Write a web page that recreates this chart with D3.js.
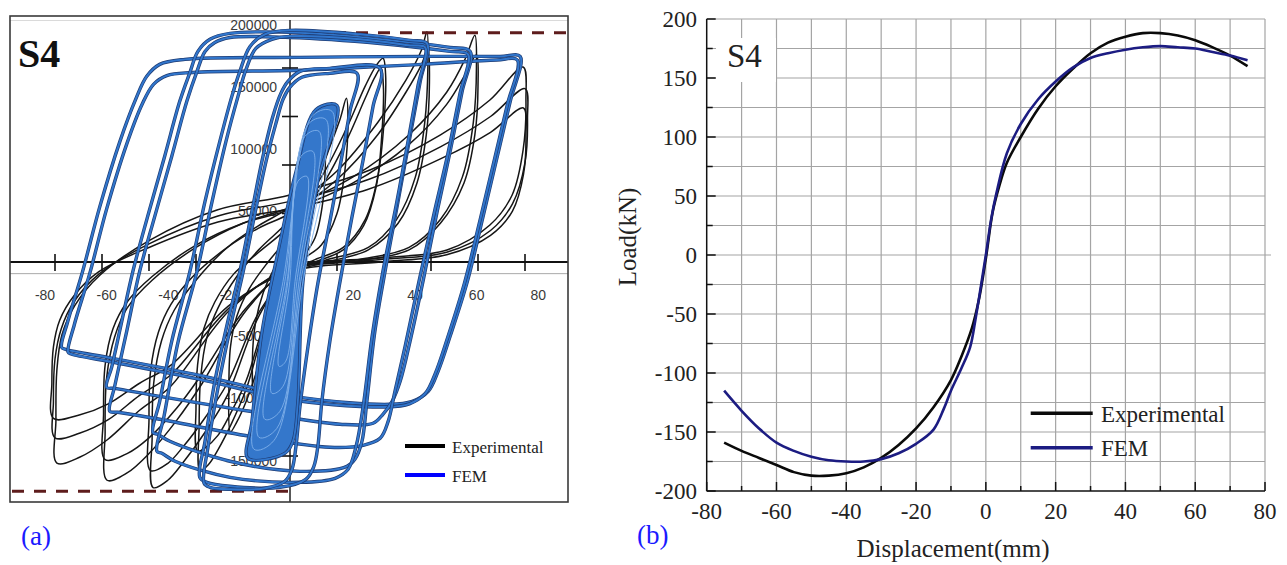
<!DOCTYPE html>
<html><head><meta charset="utf-8">
<script src="https://cdn.jsdelivr.net/npm/d3@7"></script>
<style>body{margin:0;background:#fff}svg{display:block}</style>
</head><body>
<svg id="chart" width="1287" height="565"></svg>
<script>
// ================= data =================
const specimen = "S4";

// (a) experimental hysteresis cycles: [displacement mm, load kN]
const expCycle75a = [[-74.4,-165.8],[-74.7,-130.3],[-74.4,-89.1],[-72.8,-60.2],[-68.6,-35.5],[-60.6,-10.7],[-44.7,18.1],[-23.3,42.9],[0,55.3],[25.5,75.9],[47.9,104.7],[63.8,133.6],[74.4,160.8],[75.3,133.6],[74.4,92.4],[70.9,55.3],[63.8,30.5],[50.1,9.9],[28.7,3.3],[0,-4.9],[-19.2,-39.6],[-38.3,-103.1],[-47.9,-122.1],[-58.4,-146.8],[-67.0,-160.8]];
const expCycle75b = [[-75,-145],[-75.5,-115],[-75,-80],[-73,-55],[-69,-33],[-61,-10],[-45,15],[-23,38],[0,50],[25,68],[48,95],[64,120],[75,143],[75.8,118],[75,82],[71,48],[64,26],[50,8],[29,2],[0,-6],[-19,-37],[-38,-93],[-48,-110],[-58,-130],[-67,-141]];
const expCycle75c = [[-75.5,-129],[-76,-100],[-75.5,-70],[-73.5,-48],[-69,-28],[-61,-8],[-45,12],[-23,33],[0,44],[25,60],[48,85],[64,107],[74.5,127],[75.3,104],[74.5,72],[71,42],[64,22],[50,6],[29,0],[0,-8],[-19,-35],[-38,-85],[-48,-100],[-58,-117],[-67,-126]];
const expCycle60a = [[-58.4,-180],[-59,-140],[-58.5,-95],[-56,-62],[-52,-38],[-44,-15],[-30,12],[-15,32],[0,45],[20,70],[38,105],[50,140],[56,168],[59,187],[59.5,160],[58.5,115],[55,70],[48,35],[38,12],[22,2],[0,-6],[-14,-40],[-28,-100],[-36,-130],[-45,-158],[-52,-174]];
const expCycle60b = [[-59,-163],[-59.5,-125],[-59,-85],[-56.5,-55],[-52,-33],[-44,-12],[-30,14],[-15,32],[0,43],[20,65],[38,97],[50,130],[56,155],[59.5,171],[60,145],[59,105],[55.5,65],[48,32],[38,10],[22,1],[0,-7],[-14,-38],[-28,-92],[-36,-120],[-45,-145],[-52,-158]];
const expCycle45a = [[-43.7,-186],[-44,-145],[-43.5,-100],[-41,-65],[-37,-40],[-30,-15],[-20,12],[-10,30],[0,45],[15,75],[28,115],[37,150],[42,175],[43.7,190],[44,160],[43,115],[40,70],[34,35],[25,12],[12,2],[0,-8],[-10,-45],[-20,-110],[-27,-140],[-34,-165],[-39,-180]];
const expCycle45b = [[-44.5,-172],[-45,-130],[-44.5,-90],[-42,-58],[-38,-35],[-31,-12],[-20,12],[-10,28],[0,40],[15,68],[28,105],[37,140],[42,163],[44,176],[44.5,148],[43.5,105],[40.5,65],[34.5,32],[25,10],[12,0],[0,-10],[-10,-42],[-20,-100],[-27,-128],[-34,-152],[-39,-166]];
const expCycle30a = [[-28.7,-172],[-29,-135],[-28.5,-95],[-26.5,-62],[-23,-38],[-17,-12],[-10,10],[0,35],[10,70],[18,110],[24,145],[27.5,162],[29.7,168],[30.5,155],[30,115],[28,70],[24,35],[17,12],[8,2],[0,-8],[-7,-45],[-14,-105],[-19,-135],[-23,-155],[-26,-167]];
const expCycle30b = [[-29.5,-156],[-30,-120],[-29.5,-85],[-27.5,-55],[-24,-33],[-18,-10],[-10,8],[0,30],[10,62],[18,100],[24,135],[27,152],[29,160],[29.8,145],[29.3,105],[27.5,62],[23.5,30],[17,10],[8,0],[0,-9],[-7,-42],[-14,-98],[-19,-125],[-23,-143],[-27,-153]];
const expCycle20 = [[-19,-140],[-19.5,-105],[-19,-70],[-17,-45],[-13,-22],[-7,0],[0,22],[7,55],[12,90],[16,118],[18,135],[18.5,115],[17.5,75],[15,40],[10,14],[4,2],[0,-8],[-5,-40],[-10,-85],[-14,-115],[-17,-132]];
const expCycle12 = [[-11.5,-110],[-12,-80],[-11,-50],[-8.5,-25],[-5,-5],[0,15],[5,45],[8.5,75],[11,105],[11.3,85],[10.5,50],[8,20],[4,4],[0,-8],[-4,-35],[-7,-65],[-10,-95]];
const expCycle6 = [[-6,-70],[-6.3,-48],[-5.5,-25],[-3,-8],[0,8],[3,30],[5,50],[6,65],[6.2,48],[5.5,25],[3.5,8],[0,-6],[-2.5,-25],[-4.5,-48]];
const expCycles = [expCycle75a, expCycle75b, expCycle75c, expCycle60a, expCycle60b, expCycle45a, expCycle45b,
                   expCycle30a, expCycle30b, expCycle20, expCycle12, expCycle6];

// (a) FEM hysteresis cycles: [displacement mm, load kN]
const femCycle75a = [[74.1,174.4],[70.9,138.3],[66.7,94.1],[62.1,46.0],[57.0,-6.2],[51.4,-50.3],[47.5,-78.4],[44.3,-94.5],[39.1,-102.5],[31.9,-104.9],[2.7,-99.3],[-29.8,-81.6],[-58.0,-68.0],[-73.3,-60.8],[-74.6,-59.2],[-72.6,-38.3],[-67.8,1.8],[-62.2,54.0],[-55.7,106.2],[-50.6,139.9],[-47.0,158.4],[-42.8,168.0],[-34.6,172.0],[2.7,173.6],[41.7,174.4],[67.6,174.4]];
const femCycle75b = [[73.2,171.5],[70.0,136],[65.8,92],[61.2,44],[56.0,-8],[50.5,-52],[46.6,-80],[43.4,-96],[38.2,-104.5],[31.0,-107],[2.0,-102],[-30.5,-84.5],[-57.0,-71.5],[-71.5,-64.5],[-72.5,-63],[-70.5,-41],[-65.5,0],[-60,52],[-53.5,104],[-48.5,136],[-44.8,152],[-40.5,159],[-32,161.5],[5,163.5],[42,168],[66.5,171.5]];
const femCycle60a = [[57.9,178.4],[55.3,146.3],[51.4,98.1],[47.2,50.0],[42.6,-6.2],[38.4,-54.3],[35.2,-86.4],[32.6,-102.5],[29.6,-112.9],[26.4,-120.1],[15.7,-120.9],[-13.5,-110.5],[-42.8,-98.5],[-57.4,-92.1],[-60.0,-91.3],[-58.3,-74.4],[-55.1,-38.3],[-51.5,1.8],[-46.7,46.0],[-41.2,94.1],[-36.3,138.3],[-33.1,160.8],[-30.4,178.4],[-26.5,188.1],[-20.0,192.9],[-0.6,193.7],[28.7,188.1],[51.4,181.6]];
const femCycle60b = [[57.2,176.0],[54.6,144.6],[50.7,96.5],[46.2,48.4],[41.3,-6.2],[36.8,-58.4],[33.5,-94.5],[31.3,-118.6],[28.7,-132.2],[23.2,-137.8],[12.4,-139.4],[-13.5,-130.6],[-42.8,-116.9],[-56.4,-111.3],[-59.0,-110.5],[-57.4,-90.4],[-53.5,-46.3],[-49.3,1.8],[-44.4,46.0],[-38.9,94.1],[-34.0,138.3],[-30.7,162.4],[-28.1,178.4],[-24.9,185.6],[-20.0,189.6],[-0.6,189.6],[28.7,184.8],[51.4,178.4]];
const femCycle45a = [[43.9,184.8],[41.7,154.3],[38.4,110.2],[34.5,58.0],[30.6,5.9],[27.0,-46.3],[24.4,-102.5],[22.8,-134.6],[20.5,-149.1],[17.9,-154.7],[2.7,-158.7],[-20.0,-150.6],[-39.5,-134.6],[-43.4,-129.0],[-45.0,-127.4],[-42.8,-102.5],[-38.9,-54.3],[-33.0,1.8],[-28.1,58.0],[-23.3,106.2],[-19.4,142.3],[-16.8,162.4],[-13.5,182.4],[-8.7,192.1],[-0.6,195.3],[22.2,192.1],[38.4,187.3]];
const femCycle45b = [[43.3,181.6],[41.0,151.1],[37.8,106.9],[33.9,54.8],[29.6,1.8],[26.1,-50.3],[23.2,-106.5],[20.9,-138.6],[18.3,-157.1],[14.1,-164.3],[2.7,-167.5],[-20.0,-163.5],[-37.8,-150.6],[-42.1,-144.2],[-43.7,-142.6],[-41.4,-114.5],[-36.8,-54.3],[-30.7,1.8],[-25.8,58.0],[-21.3,106.2],[-17.4,142.3],[-14.8,163.9],[-11.6,180.8],[-6.4,188.1],[-0.6,190.5],[22.2,188.1],[38.4,183.2]];
const femCycle30a = [[28.7,164.8],[26.4,134.3],[23.1,90.2],[19.6,46.0],[15.7,-6.2],[12.4,-54.3],[9.8,-102.5],[8.5,-138.6],[7.2,-154.7],[4.6,-165.1],[-3.8,-171.5],[-20.0,-170.7],[-27.5,-167.5],[-29.8,-163.5],[-28.1,-134.6],[-24.9,-86.4],[-20.7,-38.3],[-16.8,1.8],[-12.9,50.0],[-9.3,94.1],[-6.1,126.2],[-3.5,144.7],[-1.2,154.3],[2.7,162.4],[12.4,164.8]];
const femCycle30b = [[21.2,160.8],[18.9,130.3],[15.7,86.1],[12.4,41.9],[8.5,-7.8],[5.3,-58.4],[2.7,-106.5],[1.4,-138.6],[0.1,-157.1],[-2.2,-166.7],[-8.7,-172.3],[-20.0,-173.1],[-26.5,-171.5],[-28.4,-168.3],[-27.1,-138.6],[-23.8,-90.4],[-19.6,-39.9],[-15.7,1.8],[-11.9,48.4],[-8.3,90.2],[-5.1,120.6],[-2.8,139.9],[-0.6,149.5],[3.3,157.6],[12.4,160.8]];
const femCycles = [femCycle75a, femCycle75b, femCycle60a, femCycle60b, femCycle45a, femCycle45b,
                   femCycle30a, femCycle30b];
// small FEM cycles packed around the origin; the outermost one bounds the dense band
const femCycle15 = [[14.7,135.1],[8.5,74.1],[3.7,-6.2],[2.0,-102.5],[0.4,-134.6],[-2.2,-144.2],[-14.2,-148.2],[-12.9,-118.5],[-9.6,-46.3],[-4.4,17.9],[1.4,82.1],[7.9,131.8]];
const femCycle13 = [[13.1,130.3],[3.7,-6.2],[-5.7,-133.8],[-12.2,-141.0],[-2.8,-6.2],[6.9,127.0]];
const femCycle11 = [[11.1,123.8],[3.0,-6.2],[-4.8,-124.2],[-10.6,-131.4],[-2.2,-6.2],[5.6,120.6]];
const femCycle9 = [[8.9,114.2],[2.4,-6.2],[-3.8,-110.5],[-8.7,-116.9],[-1.5,-6.2],[4.3,110.2]];
const femCycle6 = [[6.9,98.1],[1.7,-6.2],[-2.8,-90.4],[-6.4,-96.1],[-1.2,-6.2],[3.0,94.1]];
const femCycle3 = [[5.0,78.0],[1.1,-6.2],[-1.9,-70.3],[-4.1,-74.4],[-0.6,-6.2],[2.0,74.0]];
const femSmallCycles = [femCycle13, femCycle11, femCycle9, femCycle6, femCycle3];

const peakLoadRef = [189, -189];                 // kN, dashed reference lines
const expDispTicks = [-75, -60, -45, -30, -15, 15, 30, 45, 60, 75];
const expLoadTicks = [-160, -120, -80, -40, 40, 80, 120, 160];
const femDispTicks = [-80, -60, -40, -20, 0, 20, 40, 60, 80];
const femLoadTicks = [-150000, -100000, -50000, 50000, 100000, 150000, 200000];

// (b) skeleton curves: displacement mm / load kN
const expSkelDisp = [-75,-70,-65,-60,-55,-50,-45,-40,-35,-30,-25,-20,-15,-10,-7,-4,-2,0,2,4,6,10,15,20,25,30,35,40,45,50,55,60,65,70,75];
const expSkelLoad = [-159,-166,-172,-178,-184,-187,-187,-185,-180,-172,-161,-147,-129,-106,-86,-62,-38,-3,37,60,78,100,124,143,158,171,180,185,188,188,186,182,176,169,160];
const femSkelDisp = [-75,-70,-65,-60,-55,-50,-45,-40,-35,-30,-25,-20,-15,-12,-10,-7,-4.5,-3,-1.5,0,1.5,3,6,10,15,20,25,30,35,40,45,50,55,60,65,70,75];
const femSkelLoad = [-115,-132,-147,-159,-166,-171,-174,-175,-175,-173,-168,-160,-148,-130,-115,-96,-78,-55,-28,0,30,52,86,111,132,147,159,167,171,174,176,177,176,175,172,169,165];
const skelDispTicks = [-80, -60, -40, -20, 0, 20, 40, 60, 80];
const skelDispMinor = [-70, -50, -30, -10, 10, 30, 50, 70];
const skelLoadTicks = [-200, -150, -100, -50, 0, 50, 100, 150, 200];
const skelLoadMinor = [-175, -125, -75, -25, 25, 75, 125, 175];

const seriesNames = ["Experimental", "FEM"];

// ================= drawing =================
const svg = d3.select("#chart");
svg.append("rect").attr("width", 1287).attr("height", 565).attr("fill", "#fff");
const serif = "'Liberation Serif','Times New Roman',serif";
const sans = "'Liberation Sans',Arial,sans-serif";

// ---------- panel (a): hysteresis loops ----------
const fa = {x0: 10, y0: 16, x1: 568, y1: 502};
svg.append("defs").append("clipPath").attr("id", "clipA")
  .append("rect").attr("x", fa.x0).attr("y", fa.y0)
  .attr("width", fa.x1 - fa.x0).attr("height", fa.y1 - fa.y0);
const gA = svg.append("g").attr("clip-path", "url(#clipA)");

const xE = d3.scaleLinear().domain([-75, 75]).range([55, 525]);
const yE = d3.scaleLinear().domain([-160, 160]).range([456, 68]);
const xF = d3.scaleLinear().domain([-80, 80]).range([45, 538.3]);
const yF = d3.scaleLinear().domain([-150000, 200000]).range([460.5, 24.5]);

// faint plot-area edge
gA.append("line").attr("x1", fa.x0).attr("x2", fa.x1).attr("y1", 20.5).attr("y2", 20.5)
  .attr("stroke", "#dadada").attr("stroke-width", 1);

// FEM axis labels (in N and mm)
gA.append("line").attr("x1", fa.x0).attr("x2", fa.x1).attr("y1", yF(0)).attr("y2", yF(0))
  .attr("stroke", "#a9a9a9").attr("stroke-width", 1);
gA.selectAll("text.fy").data(femLoadTicks).join("text").attr("class", "fy")
  .attr("x", 277).attr("y", d => yF(d)).attr("dy", "0.36em").attr("text-anchor", "end")
  .attr("font-family", sans).attr("font-size", 14).attr("fill", "#3a3a3a").text(d => d);
gA.selectAll("text.fx").data(femDispTicks).join("text").attr("class", "fx")
  .attr("x", d => xF(d)).attr("y", 295).attr("dy", "0.36em").attr("text-anchor", "middle")
  .attr("font-family", sans).attr("font-size", 14).attr("fill", "#3a3a3a").text(d => d);

// experimental axes
gA.append("line").attr("x1", fa.x0).attr("x2", fa.x1).attr("y1", yE(0)).attr("y2", yE(0))
  .attr("stroke", "#111").attr("stroke-width", 2);
gA.append("line").attr("x1", xE(0)).attr("x2", xE(0)).attr("y1", 20).attr("y2", fa.y1)
  .attr("stroke", "#111").attr("stroke-width", 1.4);
gA.selectAll("line.ex").data(expDispTicks).join("line").attr("class", "ex")
  .attr("x1", d => xE(d)).attr("x2", d => xE(d)).attr("y1", yE(0) - 8).attr("y2", yE(0) + 9)
  .attr("stroke", "#111").attr("stroke-width", 1.6);
gA.selectAll("line.ey").data(expLoadTicks).join("line").attr("class", "ey")
  .attr("x1", xE(0) - 8).attr("x2", xE(0) + 8).attr("y1", d => yE(d)).attr("y2", d => yE(d))
  .attr("stroke", "#111").attr("stroke-width", 1.6);

// experimental loops
const lineE = d3.line().x(d => xE(d[0])).y(d => yE(d[1])).curve(d3.curveCatmullRomClosed.alpha(0.5));
gA.selectAll("path.exp").data(expCycles).join("path").attr("class", "exp")
  .attr("d", lineE).attr("fill", "none").attr("stroke", "#161616").attr("stroke-width", 1.5);

// peak load reference lines
gA.append("line").attr("x1", xE(0)).attr("x2", fa.x1).attr("y1", yE(peakLoadRef[0])).attr("y2", yE(peakLoadRef[0]))
  .attr("stroke", "#5e1c1c").attr("stroke-width", 3).attr("stroke-dasharray", "12,10");
gA.append("line").attr("x1", fa.x0 + 2).attr("x2", xE(0)).attr("y1", yE(peakLoadRef[1])).attr("y2", yE(peakLoadRef[1]))
  .attr("stroke", "#5e1c1c").attr("stroke-width", 3).attr("stroke-dasharray", "12,10");

// FEM loops (dark rim under a blue core)
const lineF = d3.line().x(d => xF(d[0])).y(d => yF(d[1] * 1000)).curve(d3.curveCatmullRomClosed.alpha(0.5));
femCycles.forEach(c => {
  gA.append("path").attr("d", lineF(c)).attr("fill", "none").attr("stroke", "#1e3c74").attr("stroke-width", 3.4);
  gA.append("path").attr("d", lineF(c)).attr("fill", "none").attr("stroke", "#3176cc").attr("stroke-width", 2);
});
// dense small cycles near the origin
gA.append("path").attr("d", lineF(femCycle15)).attr("fill", "#3477cb").attr("stroke", "#1e3c74").attr("stroke-width", 3.2);
gA.append("path").attr("d", lineF(femCycle15)).attr("fill", "none").attr("stroke", "#3176cc").attr("stroke-width", 1.8);
gA.selectAll("path.fsmall").data(femSmallCycles).join("path").attr("class", "fsmall")
  .attr("d", lineF).attr("fill", "none").attr("stroke", "#7fb0ea").attr("stroke-width", 0.9);

// legend (a)
const legA = svg.append("g");
[["#000", 446], ["#0000ff", 475]].forEach((s, i) => {
  legA.append("line").attr("x1", 405).attr("x2", 445).attr("y1", s[1]).attr("y2", s[1])
    .attr("stroke", s[0]).attr("stroke-width", 4);
  legA.append("text").attr("x", 452).attr("y", s[1] + 6.5).attr("font-family", serif)
    .attr("font-size", 17).attr("fill", "#222").text(seriesNames[i]);
});
svg.append("text").attr("x", 18).attr("y", 67).attr("font-family", serif).attr("font-weight", "bold")
  .attr("font-size", 40).attr("fill", "#111").text(specimen);
svg.append("rect").attr("x", fa.x0).attr("y", fa.y0).attr("width", fa.x1 - fa.x0).attr("height", fa.y1 - fa.y0)
  .attr("fill", "none").attr("stroke", "#3a3a3a").attr("stroke-width", 1.6);
svg.append("text").attr("x", 21).attr("y", 545).attr("font-family", serif).attr("font-size", 27)
  .attr("fill", "#1a1aff").text("(a)");

// ---------- panel (b): skeleton curves ----------
const xB = d3.scaleLinear().domain([-80, 80]).range([706.7, 1265]);
const yB = d3.scaleLinear().domain([-200, 200]).range([491, 19]);
const gB = svg.append("g");
const gridCol = "#a4a4a4";
gB.selectAll("line.gv").data(skelDispTicks.concat(skelDispMinor).filter(d => d > -80)).join("line").attr("class", "gv")
  .attr("x1", d => xB(d)).attr("x2", d => xB(d)).attr("y1", yB(200)).attr("y2", yB(-200))
  .attr("stroke", gridCol).attr("stroke-width", 1.2);
gB.selectAll("line.gh").data(skelLoadTicks.concat(skelLoadMinor).filter(d => d > -200)).join("line").attr("class", "gh")
  .attr("x1", xB(-80)).attr("x2", d => d === 0 ? xB(80) + 6 : xB(80)).attr("y1", d => yB(d)).attr("y2", d => yB(d))
  .attr("stroke", gridCol).attr("stroke-width", 1.2);

// white box behind the specimen label
gB.append("rect").attr("x", 716).attr("y", 38).attr("width", 60).attr("height", 44).attr("fill", "#fff");
gB.append("text").attr("x", 727).attr("y", 67).attr("font-family", serif).attr("font-size", 33)
  .attr("fill", "#222").text(specimen);

// axes
gB.append("line").attr("x1", xB(-80)).attr("x2", xB(-80)).attr("y1", yB(200)).attr("y2", yB(-200))
  .attr("stroke", "#111").attr("stroke-width", 1.5);
gB.append("line").attr("x1", xB(-80)).attr("x2", xB(80)).attr("y1", yB(-200)).attr("y2", yB(-200))
  .attr("stroke", "#111").attr("stroke-width", 1.5);
gB.selectAll("line.tx").data(skelDispTicks.concat(skelDispMinor)).join("line").attr("class", "tx")
  .attr("x1", d => xB(d)).attr("x2", d => xB(d)).attr("y1", yB(-200))
  .attr("y2", d => yB(-200) - (skelDispTicks.includes(d) ? 9 : 5)).attr("stroke", "#111").attr("stroke-width", 1.5);
gB.selectAll("line.ty").data(skelLoadTicks.concat(skelLoadMinor)).join("line").attr("class", "ty")
  .attr("y1", d => yB(d)).attr("y2", d => yB(d)).attr("x1", xB(-80))
  .attr("x2", d => xB(-80) + (skelLoadTicks.includes(d) ? 9 : 6)).attr("stroke", "#111").attr("stroke-width", 1.5);
gB.selectAll("text.lx").data(skelDispTicks).join("text").attr("class", "lx")
  .attr("x", d => xB(d)).attr("y", 519).attr("text-anchor", "middle")
  .attr("font-family", serif).attr("font-size", 23).attr("fill", "#222").text(d => d);
gB.selectAll("text.ly").data(skelLoadTicks).join("text").attr("class", "ly")
  .attr("x", 697).attr("y", d => yB(d)).attr("dy", "0.35em").attr("text-anchor", "end")
  .attr("font-family", serif).attr("font-size", 23).attr("fill", "#222").text(d => d);
gB.append("text").attr("x", 953).attr("y", 557).attr("text-anchor", "middle")
  .attr("font-family", serif).attr("font-size", 25).attr("fill", "#222").text("Displacement(mm)");
gB.append("text").attr("transform", "translate(636,237) rotate(-90)").attr("text-anchor", "middle")
  .attr("font-family", serif).attr("font-size", 25).attr("fill", "#222").text("Load(kN)");

// curves
const lineB = d3.line().x(d => xB(d[0])).y(d => yB(d[1])).curve(d3.curveCatmullRom.alpha(0.5));
const expSkel = expSkelDisp.map((d, i) => [d, expSkelLoad[i]]);
const femSkel = femSkelDisp.map((d, i) => [d, femSkelLoad[i]]);
gB.append("path").attr("d", lineB(expSkel)).attr("fill", "none").attr("stroke", "#0a0a0a").attr("stroke-width", 2.6);
gB.append("path").attr("d", lineB(femSkel)).attr("fill", "none").attr("stroke", "#1c1c82").attr("stroke-width", 2.6);

// legend (b)
[["#0a0a0a", 413.3], ["#1c1c82", 447.7]].forEach((s, i) => {
  gB.append("line").attr("x1", 1030.7).attr("x2", 1092.7).attr("y1", s[1]).attr("y2", s[1])
    .attr("stroke", s[0]).attr("stroke-width", 3.5);
  gB.append("text").attr("x", 1101).attr("y", s[1] + 8.3).attr("font-family", serif)
    .attr("font-size", 23).attr("fill", "#222").text(seriesNames[i]);
});
svg.append("text").attr("x", 637).attr("y", 544).attr("font-family", serif).attr("font-size", 27)
  .attr("fill", "#1a1aff").text("(b)");
</script>
</body></html>
